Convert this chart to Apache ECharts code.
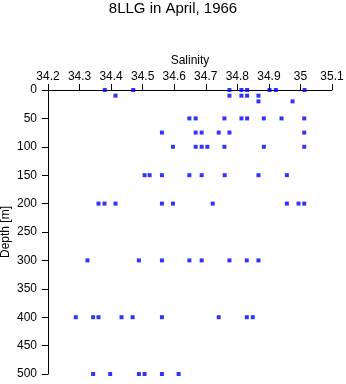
<!DOCTYPE html>
<html>
<head>
<meta charset="utf-8">
<script src="https://cdn.jsdelivr.net/npm/echarts@6/dist/echarts.min.js"></script>
<style>
  html, body { margin: 0; padding: 0; background: #fff; }
  #chart { width: 346px; height: 384px; }
</style>
</head>
<body>
<div id="chart"></div>
<script>
// salinity readings per sampled depth (m)
const depths = [0, 10, 20, 50, 75, 100, 150, 200, 300, 400, 500]
const sal0 = [34.38, 34.47, 34.775, 34.813, 34.831, 34.902, 34.922, 35.013]
const sal10 = [34.414, 34.775, 34.813, 34.831, 34.867]
const sal20 = [34.867, 34.975]
const sal50 = [34.648, 34.668, 34.759, 34.813, 34.831, 34.884, 34.94, 35.012]
const sal75 = [34.561, 34.668, 34.687, 34.741, 34.775, 35.012]
const sal100 = [34.596, 34.668, 34.687, 34.705, 34.759, 34.884, 35.012]
const sal150 = [34.506, 34.522, 34.561, 34.648, 34.687, 34.76, 34.867, 34.957]
const sal200 = [34.36, 34.379, 34.414, 34.561, 34.596, 34.722, 34.957, 34.994, 35.012]
const sal300 = [34.325, 34.488, 34.561, 34.648, 34.687, 34.775, 34.83, 34.867]
const sal400 = [34.288, 34.343, 34.36, 34.433, 34.468, 34.561, 34.741, 34.83, 34.849]
const sal500 = [34.343, 34.397, 34.488, 34.506, 34.561, 34.614]
const salByDepth = [sal0, sal10, sal20, sal50, sal75, sal100, sal150, sal200, sal300, sal400, sal500]

const points = []
depths.forEach((d, i) => salByDepth[i].forEach((s) => points.push([s, d])))

const chart = echarts.init(document.getElementById('chart'), null, { renderer: 'canvas' })
const font = 'Liberation Sans, Arial, sans-serif'

chart.setOption({
  animation: false,
  textStyle: { fontFamily: font, color: '#000' },
  title: {
    text: '8LLG in April, 1966',
    left: 'center',
    top: 1,
    padding: 0,
    textStyle: { fontFamily: font, fontSize: 15, fontWeight: 'normal', color: '#000' },
  },
  grid: { left: 48, right: 14, top: 90, bottom: 10, outerBoundsMode: 'none' },
  xAxis: {
    type: 'value',
    position: 'top',
    min: 34.2,
    max: 35.1,
    interval: 0.1,
    name: 'Salinity',
    nameLocation: 'middle',
    nameGap: 23,
    nameMoveOverlap: false,
    nameTextStyle: { fontFamily: font, fontSize: 12, color: '#000' },
    axisLine: { onZero: false, lineStyle: { color: '#000', width: 1 } },
    axisTick: { show: true, length: 6, lineStyle: { color: '#000' } },
    axisLabel: {
      margin: 7,
      fontSize: 12,
      color: '#000',
      fontFamily: font,
      formatter: (v) => String(parseFloat(v.toFixed(1))),
    },
    splitLine: { show: false },
  },
  yAxis: {
    type: 'value',
    inverse: true,
    min: 0,
    max: 500,
    interval: 50,
    name: 'Depth [m]',
    nameLocation: 'middle',
    nameGap: 36,
    nameMoveOverlap: false,
    nameRotate: 90,
    nameTextStyle: { fontFamily: font, fontSize: 12, color: '#000' },
    axisLine: { onZero: false, lineStyle: { color: '#000', width: 1 } },
    axisTick: { show: true, length: 6, lineStyle: { color: '#000' } },
    axisLabel: { margin: 11, fontSize: 12, color: '#000', fontFamily: font },
    splitLine: { show: false },
  },
  series: [
    {
      type: 'scatter',
      data: points,
      symbol: 'rect',
      symbolSize: 4,
      itemStyle: { color: '#0000ff' },
    },
  ],
})
</script>
</body>
</html>
